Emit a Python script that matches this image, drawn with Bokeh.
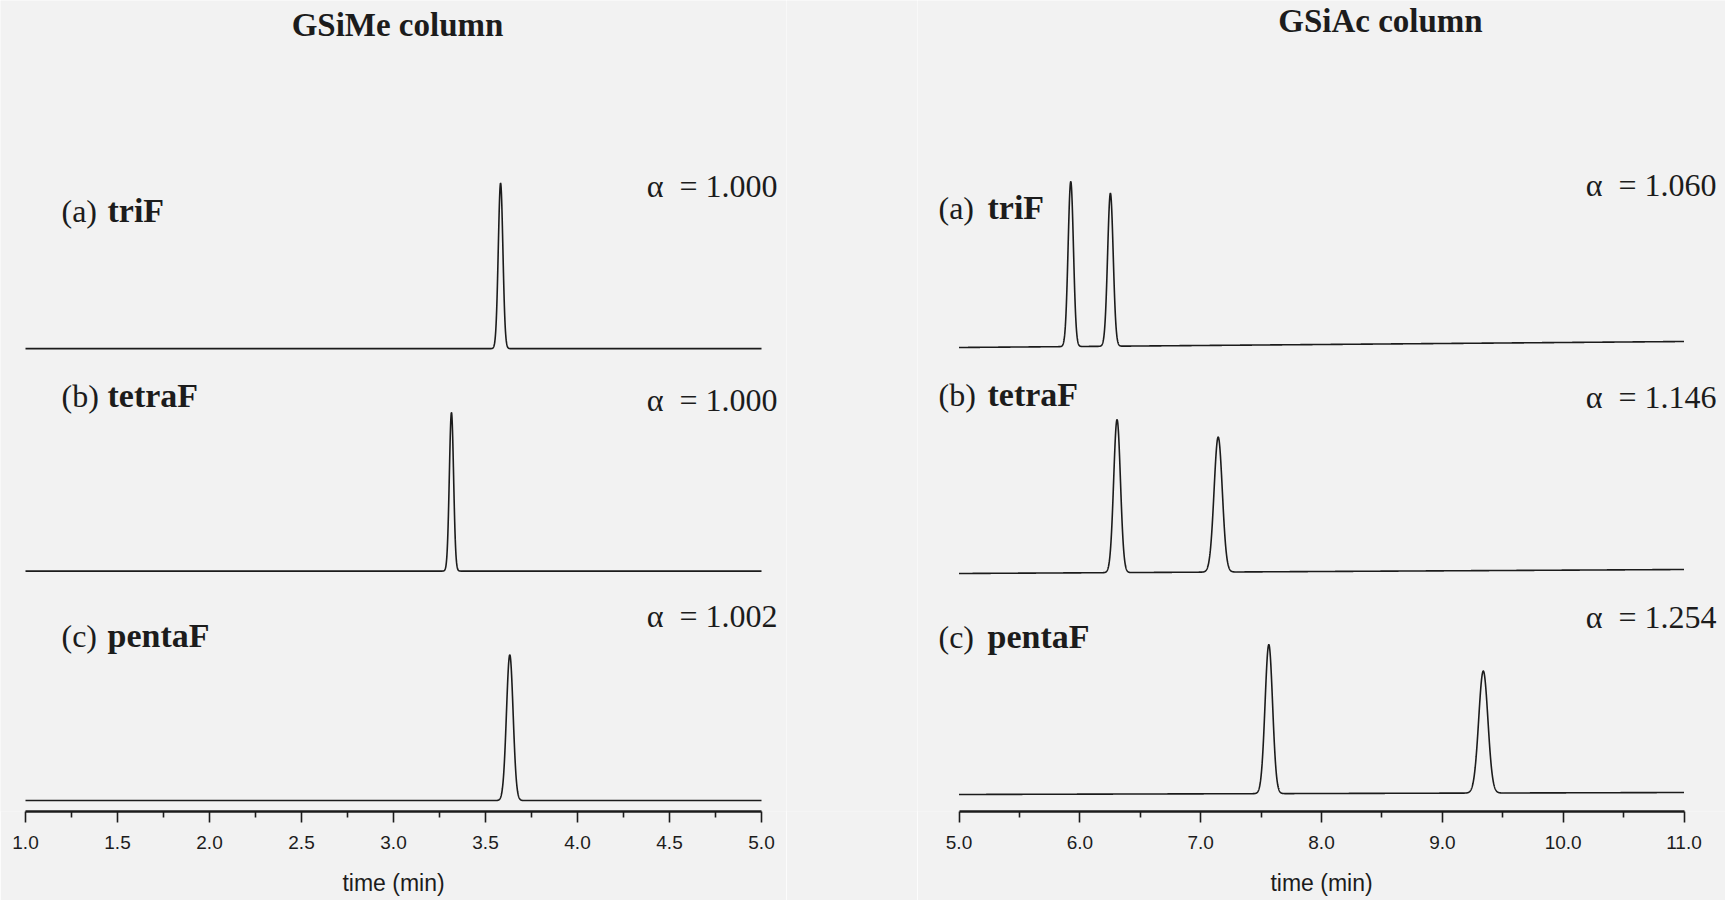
import numpy as np
from bokeh.plotting import figure
from bokeh.models import Range1d, FixedTicker, NumeralTickFormatter, Label
from bokeh.layouts import row
from bokeh.embed import file_html
from bokeh.resources import INLINE

# ---------------- data ----------------
left_title = "GSiMe column"
right_title = "GSiAc column"
tags = ["(a)", "(b)", "(c)"]
compounds = ["triF", "tetraF", "pentaF"]
left_alpha = ["1.000", "1.000", "1.002"]
right_alpha = ["1.060", "1.146", "1.254"]

# GSiMe column: one peak per compound (retention time in min, height, width sigma in min)
left_rt = [3.582, 3.315, 3.632]
left_height = [166, 159, 146]
left_sigma = [0.0125, 0.0115, 0.018]

# GSiAc column: two enantiomer peaks per compound
right_rt1 = [5.925, 6.308, 7.564]
right_rt2 = [6.253, 7.145, 9.339]
right_h1 = [165, 153, 149]
right_h2 = [153, 135, 122]
right_sigma1 = [0.022, 0.028, 0.031]
right_sigma2 = [0.023, 0.034, 0.038]
right_drift = [6, 4, 2]

left_ticks = [1.0, 1.5, 2.0, 2.5, 3.0, 3.5, 4.0, 4.5, 5.0]
left_minor = [1.25, 1.75, 2.25, 2.75, 3.25, 3.75, 4.25, 4.75]
right_ticks = [5.0, 6.0, 7.0, 8.0, 9.0, 10.0, 11.0]
right_minor = [5.5, 6.5, 7.5, 8.5, 9.5, 10.5]

# ---------------- style / layout ----------------
BG = "#f2f2f2"
INK = "#1c1c1c"
SERIF = "Liberation Serif"
SANS = "Liberation Sans"
H = 900

# page geometry (pixels): left axis 1.0 -> 25, 5.0 -> 761 ; right axis 5.0 -> 958.5, 11.0 -> 1683.5
L_X0, L_SCALE = 25.0, 184.0
R_X0, R_SCALE = 958.5, 725.0 / 6.0
W_LEFT, W_GAP, W_RIGHT = 786, 131, 808
R_LEFT = W_LEFT + W_GAP


def make_fig(width, xr, bounds, yr, mb, ticks, minor):
    p = figure(width=width, height=H, x_range=Range1d(*xr), y_range=Range1d(*yr),
               output_backend="svg", toolbar_location=None, title=None,
               y_axis_location=None, min_border_left=0, min_border_right=0,
               min_border_top=0, min_border_bottom=mb)
    p.background_fill_color = BG
    p.border_fill_color = BG
    p.outline_line_color = None
    p.grid.visible = False
    ax = p.xaxis[0]
    ax.bounds = bounds
    ax.ticker = FixedTicker(ticks=ticks, minor_ticks=minor)
    ax.formatter = NumeralTickFormatter(format="0.0")
    ax.axis_line_width = 2.6
    ax.axis_line_color = INK
    ax.major_tick_in = 0
    ax.major_tick_out = 11
    ax.minor_tick_in = 0
    ax.minor_tick_out = 6
    ax.major_tick_line_width = 1.6
    ax.minor_tick_line_width = 1.6
    ax.major_tick_line_color = INK
    ax.minor_tick_line_color = INK
    ax.major_label_standoff = 13
    ax.major_label_text_font = SANS
    ax.major_label_text_font_size = "19px"
    ax.major_label_text_color = INK
    ax.axis_label = "time (min)"
    ax.axis_label_text_font = SANS
    ax.axis_label_text_font_size = "23px"
    ax.axis_label_text_font_style = "normal"
    ax.axis_label_text_color = INK
    ax.axis_label_standoff = 18
    return p


xrL = (1.0 - L_X0 / L_SCALE, 1.0 + (W_LEFT - L_X0) / L_SCALE)
xrR = (5.0 - (R_X0 - R_LEFT) / R_SCALE, 5.0 + (1725 - R_X0) / R_SCALE)

pL = make_fig(W_LEFT, xrL, (1.0, 5.0), (0, 813), 87, left_ticks, left_minor)
pR = make_fig(W_RIGHT, xrR, (5.0, 11.0), (0, 811), 89, right_ticks, right_minor)

# blank filler between the two panels
pG = figure(width=W_GAP, height=H, output_backend="svg", toolbar_location=None, title=None,
            x_axis_location=None, y_axis_location=None, min_border=0,
            x_range=Range1d(0, 1), y_range=Range1d(0, 1))
pG.background_fill_color = BG
pG.border_fill_color = BG
pG.outline_line_color = None
pG.grid.visible = False

left_offsets = [464, 241, 11]
right_offsets = [464, 238, 17]

tL = np.linspace(1.0, 5.0, 4000)
for i in range(3):
    y = left_offsets[i] + left_height[i] * np.exp(-0.5 * ((tL - left_rt[i]) / left_sigma[i]) ** 2)
    pL.line(tL, y, line_color=INK, line_width=1.6)

tR = np.linspace(5.0, 11.0, 5000)
for i in range(3):
    y = (right_offsets[i] + right_drift[i] * (tR - 5.0) / 6.0
         + right_h1[i] * np.exp(-0.5 * ((tR - right_rt1[i]) / right_sigma1[i]) ** 2)
         + right_h2[i] * np.exp(-0.5 * ((tR - right_rt2[i]) / right_sigma2[i]) ** 2))
    pR.line(tR, y, line_color=INK, line_width=1.6)


def lxL(px):
    return 1.0 + (px - L_X0) / L_SCALE


def lxR(px):
    return 5.0 + (px - R_X0) / R_SCALE


def add_text(p, x, y, text, size, style="normal", align="left"):
    p.add_layout(Label(x=x, y=y, text=text, text_font=SERIF, text_font_size=size,
                       text_font_style=style, text_color=INK, text_align=align,
                       text_baseline="alphabetic"))


add_text(pL, lxL(397), 813 - 25, left_title, "33px", "bold", "center")
add_text(pR, lxR(1380), 811 - 20, right_title, "33px", "bold", "center")

left_tag_y = [211, 396, 637]
left_alpha_y = [186, 400, 617]
right_tag_y = [207, 394, 636]
right_alpha_y = [184, 396, 616]

for i in range(3):
    add_text(pL, lxL(61), 813 - left_tag_y[i], tags[i], "32px")
    add_text(pL, lxL(107), 813 - left_tag_y[i], compounds[i], "34px", "bold")
    add_text(pL, lxL(777), 813 - left_alpha_y[i], "\u03b1\u00a0 = " + left_alpha[i], "32px", align="right")
    add_text(pR, lxR(938), 811 - right_tag_y[i], tags[i], "32px")
    add_text(pR, lxR(987), 811 - right_tag_y[i], compounds[i], "34px", "bold")
    add_text(pR, lxR(1716), 811 - right_alpha_y[i], "\u03b1\u00a0 = " + right_alpha[i], "32px", align="right")

layout = row(pL, pG, pR, spacing=0)
html = file_html(layout, INLINE)
html = html.replace("<body>", '<body style="margin:0;background:%s;">' % BG, 1)
open("out.html", "w").write(html)
